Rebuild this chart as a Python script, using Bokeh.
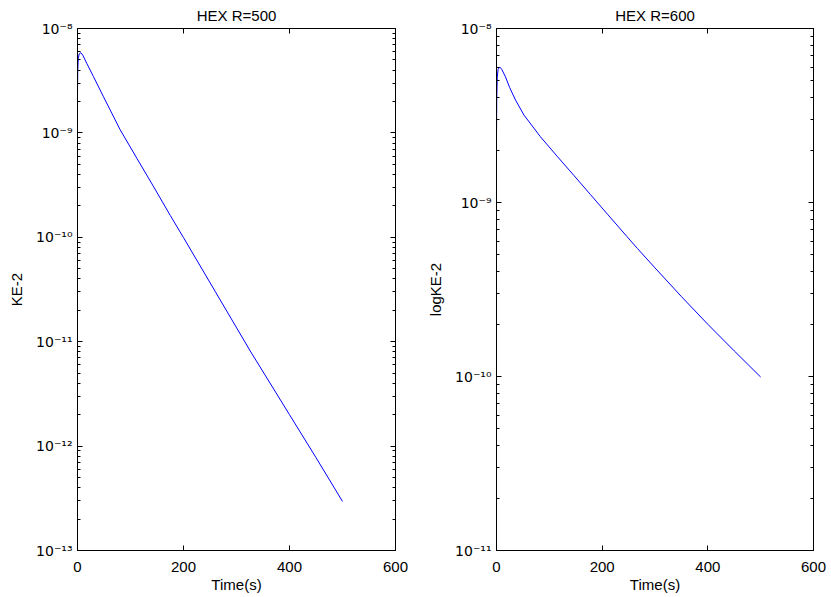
from bokeh.plotting import figure
from bokeh.layouts import row
from bokeh.models import Range1d, FixedTicker, LinearAxis, LogAxis, CustomJSTickFormatter
from bokeh.embed import file_html
from bokeh.resources import INLINE

# ---- data ----
t_left = [0, 0.5, 1.5, 3, 6.4, 10, 17.7, 30, 49, 80.6, 112, 143, 175, 200, 260, 326, 400, 450, 500]
ke_left = [2.47e-9, 3.98e-9, 5.13e-9, 5.69e-9, 5.87e-9, 5.55e-9, 4.61e-9, 3.47e-9, 2.22e-9, 1.07e-9,
           5.71e-10, 3.09e-10, 1.62e-10, 9.93e-11, 3.02e-11, 8.13e-12, 2.0e-12, 7.76e-13, 2.95e-13]

t_right = [0, 0.5, 1.5, 3, 6, 10, 17, 25, 36, 52, 83, 115, 146, 178, 210, 247, 267, 300, 350, 400, 450, 500]
ke_right = [2.40e-9, 3.98e-9, 5.25e-9, 5.82e-9, 6.01e-9, 5.82e-9, 5.27e-9, 4.57e-9, 3.88e-9, 3.18e-9,
            2.39e-9, 1.84e-9, 1.436e-9, 1.109e-9, 8.57e-10, 6.37e-10, 5.43e-10, 4.21e-10, 2.88e-10,
            1.995e-10, 1.403e-10, 9.93e-11]

x_ticks = [0, 200, 400, 600]
y_ticks_left = [1e-13, 1e-12, 1e-11, 1e-10, 1e-9, 1e-8]
y_ticks_right = [1e-11, 1e-10, 1e-9, 1e-8]

titles = ["HEX R=500", "HEX R=600"]
ylabels = ["KE-2", "logKE-2"]
xlabel = "Time(s)"

FONT = "Liberation Sans"
TICKFONT = "DejaVu Sans"

sup_fmt = CustomJSTickFormatter(code="""
const e = Math.round(Math.log10(tick));
const m = {'-':'\u207B','0':'\u2070','1':'\u00B9','2':'\u00B2','3':'\u00B3','4':'\u2074','5':'\u2075','6':'\u2076','7':'\u2077','8':'\u2078','9':'\u2079'};
let s = '';
for (const c of String(e)) { s += m[c]; }
return '10' + s;
""")
blank_fmt = CustomJSTickFormatter(code="return '';")


def minor_for(ticks):
    out = []
    for tk in ticks[:-1]:
        for k in range(2, 10):
            out.append(tk * k)
    return out


def style_axis(ax, minor=True):
    ax.axis_line_color = "black"
    ax.axis_line_width = 1
    ax.major_tick_in = 5
    ax.major_tick_out = 0
    ax.major_tick_line_color = "black"
    if minor:
        ax.minor_tick_in = 3
        ax.minor_tick_out = 0
        ax.minor_tick_line_color = "black"
    else:
        ax.minor_tick_line_color = None
    ax.major_label_text_font = FONT
    ax.major_label_text_font_size = "15px"
    ax.major_label_text_color = "black"
    ax.major_label_standoff = 5
    ax.axis_label_text_font = FONT
    ax.axis_label_text_font_size = "15px"
    ax.axis_label_text_font_style = "normal"
    ax.axis_label_text_color = "black"
    ax.axis_label_standoff = 1


def make_fig(t, ke, yticks, title, ylabel, width, mb_left, mb_right):
    p = figure(width=width, height=595, y_axis_type="log",
               x_range=Range1d(0, 600), y_range=Range1d(yticks[0], yticks[-1]),
               output_backend="svg", toolbar_location=None,
               min_border_left=mb_left, min_border_right=mb_right,
               min_border_top=28, min_border_bottom=42)
    p.title.text = title
    p.title.align = "center"
    p.title.vertical_align = "top"
    p.title.text_font = FONT
    p.title.text_font_size = "15px"
    p.title.text_font_style = "normal"
    p.title.text_color = "black"
    p.title.standoff = 6
    p.title.offset = 0
    p.grid.visible = False
    p.outline_line_color = "black"
    p.background_fill_color = "white"
    p.border_fill_color = "white"

    xt = FixedTicker(ticks=x_ticks)
    yt = FixedTicker(ticks=yticks, minor_ticks=minor_for(yticks))

    p.xaxis.ticker = xt
    p.xaxis.axis_label = xlabel
    style_axis(p.xaxis[0], minor=False)
    p.xaxis.major_label_standoff = 11
    p.xaxis.axis_label_standoff = 1

    p.yaxis.ticker = yt
    p.yaxis.formatter = sup_fmt
    p.yaxis.axis_label = ylabel
    style_axis(p.yaxis[0], minor=True)
    p.yaxis.major_label_text_font = TICKFONT
    p.yaxis.major_label_text_font_size = "14px"
    p.yaxis.axis_label_standoff = 8

    top = LinearAxis(ticker=xt, formatter=blank_fmt)
    style_axis(top, minor=False)
    top.major_label_text_font_size = "0px"
    top.major_label_standoff = 0
    p.add_layout(top, "above")

    right = LogAxis(ticker=yt, formatter=blank_fmt)
    style_axis(right, minor=True)
    right.major_label_text_font_size = "0px"
    right.major_label_standoff = 0
    p.add_layout(right, "right")

    p.line(t, ke, line_color="#0000ff", line_width=1)
    return p


p1 = make_fig(t_left, ke_left, y_ticks_left, titles[0], ylabels[0], 420, 77, 25)
p2 = make_fig(t_right, ke_right, y_ticks_right, titles[1], ylabels[1], 411, 76, 18)

layout = row(p1, p2)
open("out.html", "w").write(file_html(layout, INLINE))
